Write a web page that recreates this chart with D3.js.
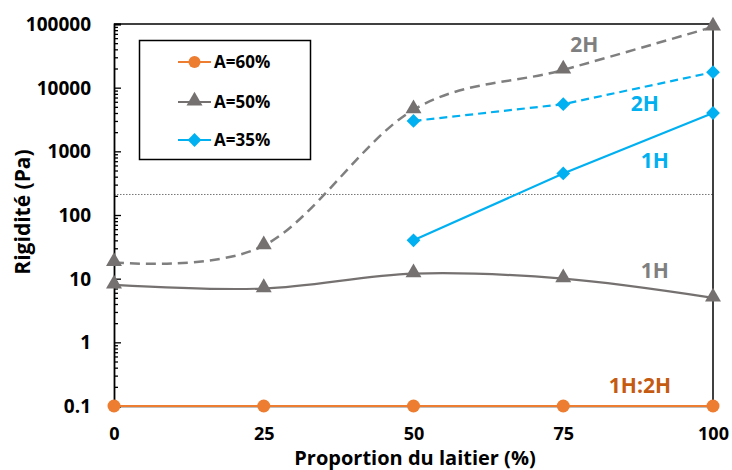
<!DOCTYPE html>
<html><head><meta charset="utf-8">
<script src="https://cdn.jsdelivr.net/npm/d3@7"></script>
<style>body{margin:0;background:#fff}svg{display:block}text{font-family:"Open Sans",Lato,sans-serif;font-weight:bold}</style>
</head><body><svg id="c" width="732" height="470"></svg>
<script>
const xValues = [0, 25, 50, 75, 100];
const a60 = [0.1, 0.1, 0.1, 0.1, 0.1];
const a50_1H = [8, 7, 12, 10, 5];
const a50_2H = [18, 33, 4500, 19000, 90000];
const a35x = [50, 75, 100];
const a35_1H = [40, 450, 4000];
const a35_2H = [3000, 5500, 17500];
const yTicks = [0.1, 1, 10, 100, 1000, 10000, 100000];
const refLine = 210;
const seriesNames = ["A=60%", "A=50%", "A=35%"];
const annotations = [
  {t:"2H", x:78.5, y:48000, c:"#7f7f7f"},
  {t:"2H", x:88.6, y:5700, c:"#00b0f0"},
  {t:"1H", x:90.3, y:730, c:"#00b0f0"},
  {t:"1H", x:90.3, y:13.7, c:"#7f7f7f"},
  {t:"1H:2H", x:87.8, y:0.214, c:"#c55a11"}
];

const svg = d3.select("#c");
const L=114, R=713, T=24, B=406;
const x = d3.scaleLinear().domain([0,100]).range([L,R]);
const y = d3.scaleLog().domain([0.1,100000]).range([B,T]);
const orange="#ed7d31", gray="#767171", blue="#00b0f0";

// reference dotted line
svg.append("line").attr("x1",L).attr("x2",R).attr("y1",y(refLine)).attr("y2",y(refLine))
  .attr("stroke","#777").attr("stroke-width",1).attr("stroke-dasharray","1.5,1.5");

// frame: top and right
svg.append("line").attr("x1",L).attr("x2",R).attr("y1",T).attr("y2",T).attr("stroke","#000").attr("stroke-width",1.5);
svg.append("line").attr("x1",R).attr("x2",R).attr("y1",T).attr("y2",B).attr("stroke","#000").attr("stroke-width",1.5);

// y axis with minor ticks
const minor=[];
for(let e=-1;e<5;e++){for(let k=2;k<=9;k++) minor.push(k*Math.pow(10,e));}
const gm = svg.append("g").attr("transform",`translate(${L},0)`)
  .call(d3.axisRight(y).tickValues(minor).tickSize(4).tickFormat(""));
gm.select(".domain").remove();
gm.selectAll("line").attr("stroke","#000").attr("stroke-width",1.3);
const gy = svg.append("g").attr("transform",`translate(${L},0)`)
  .call(d3.axisRight(y).tickValues(yTicks).tickSize(7).tickFormat(d=>String(d)));
gy.select(".domain").attr("stroke","#000").attr("stroke-width",1.8);
gy.selectAll("line").attr("stroke","#000").attr("stroke-width",1.3);
gy.selectAll("text").attr("x",-23).attr("text-anchor","end").attr("font-size",19).attr("fill","#000").attr("dy","0.35em");

// x axis
const gx = svg.append("g").attr("transform",`translate(0,${B})`)
  .call(d3.axisTop(x).tickValues(xValues).tickSize(6).tickFormat(d=>String(d)));
gx.select(".domain").attr("stroke","#000").attr("stroke-width",1.3);
gx.selectAll("line").attr("stroke","#000").attr("stroke-width",1.3);
gx.selectAll("text").attr("y",34).attr("font-size",18).attr("fill","#000").attr("text-anchor","middle");

// titles
svg.append("text").attr("x",415).attr("y",465).attr("text-anchor","middle").attr("font-size",20).text("Proportion du laitier (%)");
svg.append("text").attr("transform","translate(30,212) rotate(-90)").attr("text-anchor","middle").attr("font-size",21).text("Rigidité (Pa)");

const smooth = d3.line().x(d=>x(d[0])).y(d=>y(d[1])).curve(d3.curveCatmullRom.alpha(0));
const straight = d3.line().x(d=>x(d[0])).y(d=>y(d[1]));
const zip=(xs,ys)=>xs.map((v,i)=>[v,ys[i]]);

// lines
svg.append("path").attr("d",smooth(zip(xValues,a50_2H))).attr("fill","none").attr("stroke","#7f7f7f").attr("stroke-width",2.5).attr("stroke-dasharray","10,6");
svg.append("path").attr("d",smooth(zip(xValues,a50_1H))).attr("fill","none").attr("stroke",gray).attr("stroke-width",2.2);
svg.append("path").attr("d",straight(zip(a35x,a35_2H))).attr("fill","none").attr("stroke",blue).attr("stroke-width",2.2).attr("stroke-dasharray","8,5");
svg.append("path").attr("d",straight(zip(a35x,a35_1H))).attr("fill","none").attr("stroke",blue).attr("stroke-width",2.2);
svg.append("path").attr("d",straight(zip(xValues,a60))).attr("fill","none").attr("stroke",orange).attr("stroke-width",2);

// markers
const tri = d3.symbol().type(d3.symbolTriangle).size(110);
const dia = d3.symbol().type(d3.symbolSquare).size(95);
function tris(data){svg.append("g").selectAll("path").data(data).join("path")
  .attr("d",tri).attr("transform",d=>`translate(${x(d[0])},${y(d[1])-1})`).attr("fill",gray);}
function dias(data){svg.append("g").selectAll("path").data(data).join("path")
  .attr("d",dia).attr("transform",d=>`translate(${x(d[0])},${y(d[1])}) rotate(45)`).attr("fill",blue);}
tris(zip(xValues,a50_2H)); tris(zip(xValues,a50_1H));
dias(zip(a35x,a35_2H)); dias(zip(a35x,a35_1H));
svg.append("g").selectAll("circle").data(zip(xValues,a60)).join("circle")
  .attr("cx",d=>x(d[0])).attr("cy",d=>y(d[1])).attr("r",6.5).attr("fill",orange);

// annotations
svg.append("g").selectAll("text").data(annotations).join("text")
  .attr("x",d=>x(d.x)).attr("y",d=>y(d.y)).attr("text-anchor","middle").attr("dy","0.36em")
  .attr("font-size",21).attr("fill",d=>d.c).text(d=>d.t);

// legend
const lg = svg.append("g");
lg.append("rect").attr("x",139.5).attr("y",40.5).attr("width",171).attr("height",119).attr("fill","#fff").attr("stroke","#000").attr("stroke-width",1.5);
const legY=[62,102,140], legC=[orange,gray,blue];
seriesNames.forEach((n,i)=>{
  lg.append("line").attr("x1",178).attr("x2",211).attr("y1",legY[i]).attr("y2",legY[i]).attr("stroke",legC[i]).attr("stroke-width",2);
  if(i===0) lg.append("circle").attr("cx",194.5).attr("cy",legY[i]).attr("r",6).attr("fill",orange);
  if(i===1) lg.append("path").attr("d",tri).attr("transform",`translate(194.5,${legY[i]-1})`).attr("fill",gray);
  if(i===2) lg.append("path").attr("d",dia).attr("transform",`translate(194.5,${legY[i]}) rotate(45)`).attr("fill",blue);
  lg.append("text").attr("x",214).attr("y",legY[i]).attr("dy","0.35em").attr("font-size",17).attr("fill","#000").text(n);
});
</script></body></html>
